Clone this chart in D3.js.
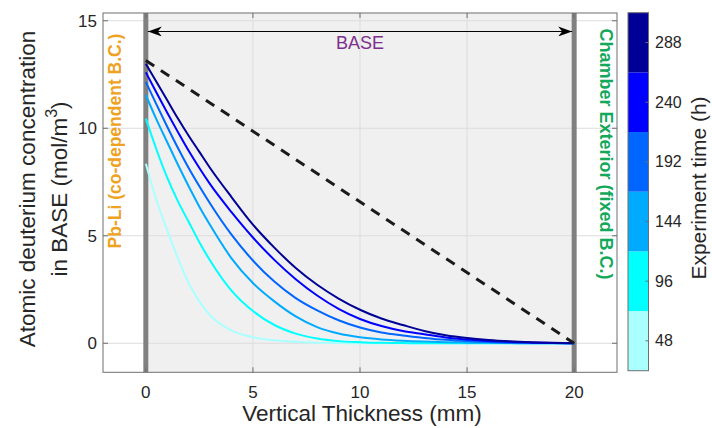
<!DOCTYPE html>
<html>
<head>
<meta charset="utf-8">
<script src="https://cdn.jsdelivr.net/npm/d3@7"></script>
<style>
  html, body { margin: 0; padding: 0; background: #fff; }
  svg { display: block; font-family: "Liberation Sans", Arial, Helvetica, sans-serif; }
</style>
</head>
<body>
<svg id="chart" width="712" height="428"></svg>
<script>
// ---------------- data ----------------
const thickness = [0,0.5,1,1.5,2,2.5,3,4,5,6,7,8,9,10,11,12,13,14,15,16,17,18,19,20];
const times = [48, 96, 144, 192, 240, 288];
const conc48  = [8.35,6.65,5.25,3.95,2.8,1.95,1.3,0.6,0.28,0.14,0.07,0.03,0.01,0,0,0,0,0,0,0,0,0,0,0];
const conc96  = [10.45,9.0,7.7,6.6,5.65,4.7,3.85,2.45,1.5,0.85,0.45,0.22,0.1,0.05,0.02,0.01,0,0,0,0,0,0,0,0];
const conc144 = [11.55,10.4,9.35,8.3,7.3,6.35,5.5,3.95,2.8,1.95,1.25,0.75,0.45,0.28,0.18,0.12,0.08,0.05,0.03,0.02,0.01,0,0,0];
const conc192 = [12.15,11.1,10.07,9.08,8.15,7.3,6.5,5.05,3.85,2.87,2.1,1.53,1.07,0.73,0.5,0.36,0.25,0.16,0.1,0.06,0.03,0.02,0.01,0];
const conc240 = [12.6,11.65,10.72,9.82,8.95,8.15,7.4,6.1,4.92,3.88,2.98,2.22,1.6,1.13,0.8,0.57,0.42,0.27,0.17,0.1,0.06,0.03,0.01,0];
const conc288 = [13.0,12.15,11.3,10.45,9.65,8.9,8.15,6.8,5.52,4.45,3.5,2.72,2.08,1.56,1.15,0.85,0.57,0.37,0.24,0.15,0.09,0.05,0.02,0];
const steadyX = [0, 20];
const steadyC = [13.15, 0];
const xTicks = [0, 5, 10, 15, 20];
const yTicks = [0, 5, 10, 15];
const cbTicks = [48, 96, 144, 192, 240, 288];
const colors = ["#aaffff", "#00ffff", "#00aaff", "#0066ff", "#0000ff", "#000096"];
const series = [conc48, conc96, conc144, conc192, conc240, conc288];

// ---------------- layout ----------------
const svg = d3.select("#chart");
const L = 103, R = 617, T = 13, B = 372.3;
const x = d3.scaleLinear().domain([-2, 22]).range([L, R]);
const y = d3.scaleLinear().domain([-1.35, 15.36]).range([B, T]);

// background patch for BASE region
svg.append("rect")
  .attr("x", x(0)).attr("y", T)
  .attr("width", x(20) - x(0)).attr("height", B - T)
  .attr("fill", "#f0f0f0");

// grid
const grid = svg.append("g").attr("stroke", "#dcdcdc").attr("stroke-width", 1);
xTicks.forEach(v => grid.append("line").attr("x1", x(v)).attr("x2", x(v)).attr("y1", T).attr("y2", B));
yTicks.forEach(v => grid.append("line").attr("x1", L).attr("x2", R).attr("y1", y(v)).attr("y2", y(v)));

// thick boundary lines
[0, 20].forEach(v => svg.append("line")
  .attr("x1", x(v)).attr("x2", x(v)).attr("y1", T).attr("y2", B)
  .attr("stroke", "#808080").attr("stroke-width", 5));

// curves
const line = d3.line().x(d => x(d[0])).y(d => y(d[1])).curve(d3.curveMonotoneX);
series.forEach((s, i) => {
  svg.append("path")
    .datum(thickness.map((t, j) => [t, s[j]]))
    .attr("d", line)
    .attr("fill", "none")
    .attr("stroke", colors[i])
    .attr("stroke-width", 2);
});

// steady-state dashed line
svg.append("path")
  .datum(steadyX.map((t, j) => [t, steadyC[j]]))
  .attr("d", d3.line().x(d => x(d[0])).y(d => y(d[1])))
  .attr("fill", "none")
  .attr("stroke", "#1a1a1a")
  .attr("stroke-width", 3)
  .attr("stroke-dasharray", "10,8");

// double arrow
const defs = svg.append("defs");
defs.append("marker")
  .attr("id", "ah").attr("viewBox", "0 0 14 10")
  .attr("refX", 14).attr("refY", 5)
  .attr("markerWidth", 14).attr("markerHeight", 10)
  .attr("markerUnits", "userSpaceOnUse")
  .attr("orient", "auto-start-reverse")
  .append("path").attr("d", "M0,0 L14,5 L0,10 L4,5 Z").attr("fill", "#000");
svg.append("line")
  .attr("x1", x(0) + 2).attr("x2", x(20) - 2)
  .attr("y1", y(14.5)).attr("y2", y(14.5))
  .attr("stroke", "#000").attr("stroke-width", 1)
  .attr("marker-start", "url(#ah)").attr("marker-end", "url(#ah)");

svg.append("text")
  .attr("x", x(10)).attr("y", 48.5)
  .attr("text-anchor", "middle")
  .attr("font-size", 18).attr("fill", "#7e2f8e")
  .text("BASE");

// axes box + ticks
svg.append("rect").attr("x", L).attr("y", T).attr("width", R - L).attr("height", B - T)
  .attr("fill", "none").attr("stroke", "#6e6e6e").attr("stroke-width", 1);
const tk = svg.append("g").attr("stroke", "#6e6e6e").attr("stroke-width", 1);
xTicks.forEach(v => {
  tk.append("line").attr("x1", x(v)).attr("x2", x(v)).attr("y1", B).attr("y2", B - 5);
  tk.append("line").attr("x1", x(v)).attr("x2", x(v)).attr("y1", T).attr("y2", T + 5);
});
yTicks.forEach(v => {
  tk.append("line").attr("x1", L).attr("x2", L + 5).attr("y1", y(v)).attr("y2", y(v));
  tk.append("line").attr("x1", R).attr("x2", R - 5).attr("y1", y(v)).attr("y2", y(v));
});

// tick labels
xTicks.forEach(v => svg.append("text")
  .attr("x", x(v)).attr("y", 398).attr("text-anchor", "middle")
  .attr("font-size", 17).attr("fill", "#262626").text(v));
yTicks.forEach(v => svg.append("text")
  .attr("x", 97).attr("y", y(v)).attr("dy", "0.35em").attr("text-anchor", "end")
  .attr("font-size", 17).attr("fill", "#262626").text(v));

// axis labels
svg.append("text")
  .attr("x", 362).attr("y", 421).attr("text-anchor", "middle")
  .attr("font-size", 22.5).attr("fill", "#262626")
  .text("Vertical Thickness (mm)");
svg.append("text")
  .attr("transform", "translate(27,189) rotate(-90)")
  .attr("text-anchor", "middle").attr("dy", "0.35em")
  .attr("font-size", 22.5).attr("fill", "#262626")
  .text("Atomic deuterium concentration");
const yl2 = svg.append("text")
  .attr("transform", "translate(59,189) rotate(-90)")
  .attr("text-anchor", "middle").attr("dy", "0.35em")
  .attr("font-size", 22.5).attr("fill", "#262626");
yl2.append("tspan").text("in BASE (mol/m");
yl2.append("tspan").attr("font-size", 16).attr("dy", "-0.6em").text("3");
yl2.append("tspan").attr("dy", "0.42em").text(")");

// boundary labels
svg.append("text")
  .attr("transform", "translate(115,141) rotate(-90)")
  .attr("text-anchor", "middle").attr("dy", "0.35em")
  .attr("font-size", 17.5).attr("font-weight", "bold").attr("fill", "#eea21f")
  .text("Pb-Li (co-dependent B.C.)");
svg.append("text")
  .attr("transform", "translate(606,154) rotate(90)")
  .attr("text-anchor", "middle").attr("dy", "0.35em")
  .attr("font-size", 18).attr("font-weight", "bold").attr("fill", "#14a85a")
  .text("Chamber Exterior (fixed B.C.)");

// colorbar
const cbL = 628, cbW = 20.5;
const cy = d3.scaleLinear().domain([24, 312]).range([370.7, 12.7]);
times.forEach((t, i) => {
  svg.append("rect")
    .attr("x", cbL).attr("y", cy(t + 24)).attr("width", cbW)
    .attr("height", cy(t - 24) - cy(t + 24))
    .attr("fill", colors[i]);
});
svg.append("rect").attr("x", cbL).attr("y", cy(312)).attr("width", cbW).attr("height", cy(24) - cy(312))
  .attr("fill", "none").attr("stroke", "#6e6e6e").attr("stroke-width", 1);
cbTicks.forEach(v => {
  svg.append("line").attr("x1", cbL + cbW).attr("x2", cbL + cbW - 3)
    .attr("y1", cy(v)).attr("y2", cy(v)).attr("stroke", "#6e6e6e");
  svg.append("text").attr("x", 655).attr("y", cy(v)).attr("dy", "0.35em")
    .attr("font-size", 16).attr("fill", "#262626").text(v);
});
svg.append("text")
  .attr("transform", "translate(699,188) rotate(-90)")
  .attr("text-anchor", "middle").attr("dy", "0.35em")
  .attr("font-size", 21).attr("fill", "#262626")
  .text("Experiment time (h)");
</script>
</body>
</html>
